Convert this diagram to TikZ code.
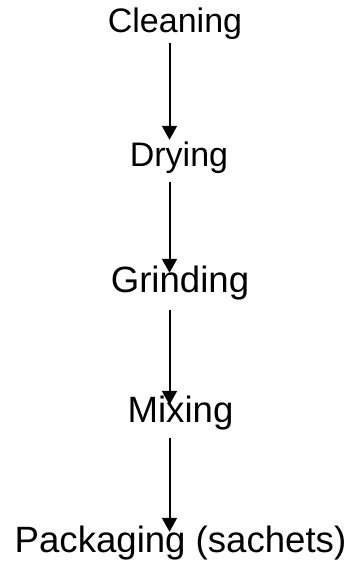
\documentclass[tikz,border=0pt]{standalone}
\usepackage{fontspec}
\setmainfont{Liberation Sans}
\usetikzlibrary{arrows.meta}
\begin{document}
\begin{tikzpicture}[x=1pt,y=-1pt,
  step label/.style={anchor=base,inner sep=0pt,text height=24pt,text depth=7pt,font=\fontsize{34}{40}\selectfont},
  big label/.style={step label,font=\fontsize{36.6}{42}\selectfont},
  flow arrow/.style={line width=2pt,-{Triangle[width=15pt,length=14pt]}}]
\useasboundingbox (0,0) rectangle (351,564);
\node[step label] (clean) at (175,33) {Cleaning};
\node[step label] (dry) at (179,167) {Drying};
\node[big label] (grind) at (180,292) {Grinding};
\node[big label] (mix) at (180.5,422) {Mixing};
\node[big label] (pack) at (180.5,552) {Packaging (sachets)};
\coordinate (ax) at (169.5,0);
\draw[flow arrow,shorten <=3pt,shorten >=3pt] (clean.south -| ax) -- (dry.north -| ax);
\draw[flow arrow,shorten <=8pt,shorten >=-5pt] (dry.south -| ax) -- (grind.north -| ax);
\draw[flow arrow,shorten <=11pt,shorten >=-7pt] (grind.south -| ax) -- (mix.north -| ax);
\draw[flow arrow,shorten <=9pt,shorten >=-4pt] (mix.south -| ax) -- (pack.north -| ax);
\end{tikzpicture}
\end{document}
